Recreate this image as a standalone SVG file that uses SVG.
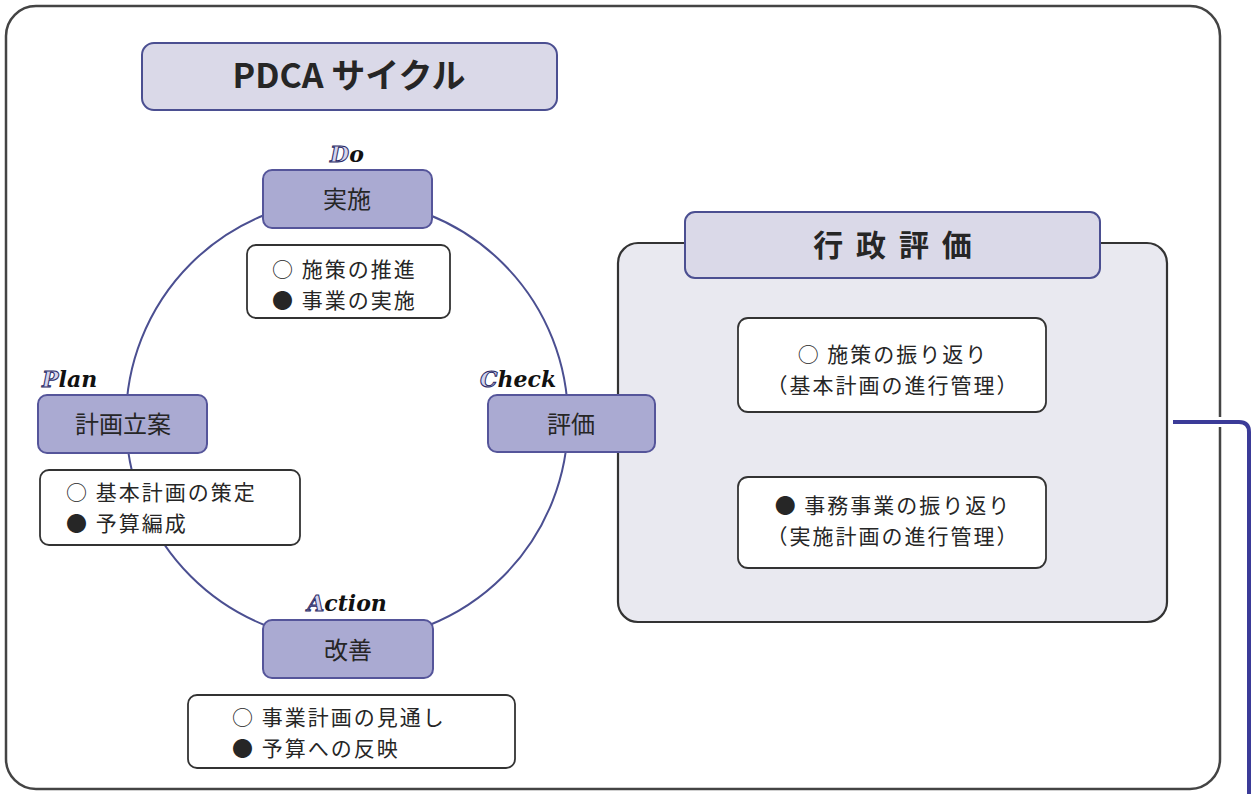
<svg xmlns="http://www.w3.org/2000/svg" width="1254" height="794" viewBox="0 0 1254 794">
<style>
.jp{font-family:"Noto Sans CJK JP","Noto Sans",sans-serif;fill:#262626}
.lbl{font-size:24px;text-anchor:middle}
.item{font-size:21px;letter-spacing:2px}
.hdr{fill:#dad9e8;stroke:#4b4f91;stroke-width:2}
.node{fill:#aaaad2;stroke:#55559a;stroke-width:2}
.tbox{fill:#fff;stroke:#333;stroke-width:1.8}
.script{font-family:"DejaVu Serif",serif;font-style:italic;font-weight:bold;font-size:22px}
.cap{fill:#d4d4ee;stroke:#2a2a66;stroke-width:1}
.low{fill:#111}
</style>
<rect x="0" y="0" width="1254" height="794" fill="#fff"/>
<g id="frame">
<rect x="6" y="6" width="1214" height="783" rx="30" fill="#fff" stroke="#444" stroke-width="2.5"/>
</g>
<g id="connectors" fill="none">
<circle cx="347" cy="420" r="221" stroke="#4b4f91" stroke-width="2"/>
<path d="M1173 422 H1239 Q1249 422 1249 432 V800" stroke="#fff" stroke-width="10"/>
<path d="M1173 422 H1239 Q1249 422 1249 432 V800" stroke="#3b3b98" stroke-width="4"/>
</g>
<g id="title">
<rect class="hdr" x="142" y="43" width="415" height="67" rx="12"/>
<text class="jp" x="349" y="88" font-size="34" font-weight="bold" text-anchor="middle">PDCA サイクル</text>
</g>
<g id="gyosei">
<rect x="618" y="243" width="549" height="379" rx="20" fill="#e9e9f0" stroke="#333" stroke-width="2.2"/>
<rect class="hdr" x="685" y="212" width="415" height="66" rx="10"/>
<text class="jp" x="894" y="256" font-size="30" font-weight="bold" text-anchor="middle" letter-spacing="3">行 政 評 価</text>
<rect class="tbox" x="738" y="318" width="308" height="94" rx="10"/>
<text class="jp item" x="893" y="362" text-anchor="middle">○ 施策の振り返り</text>
<text class="jp item" x="893" y="393" text-anchor="middle">（基本計画の進行管理）</text>
<rect class="tbox" x="738" y="477" width="308" height="91" rx="10"/>
<text class="jp item" x="893" y="513" text-anchor="middle">● 事務事業の振り返り</text>
<text class="jp item" x="893" y="544" text-anchor="middle">（実施計画の進行管理）</text>
</g>
<g id="do">
<text class="script" x="347" y="162" text-anchor="middle"><tspan class="cap">D</tspan><tspan class="low">o</tspan></text>
<rect class="node" x="263" y="170" width="169" height="58" rx="9"/>
<text class="jp lbl" x="347" y="208">実施</text>
<rect class="tbox" x="247" y="245" width="203" height="73" rx="9"/>
<text class="jp item" x="272" y="277">○ 施策の推進</text>
<text class="jp item" x="272" y="308">● 事業の実施</text>
</g>
<g id="plan">
<text class="script" x="42" y="387"><tspan class="cap">P</tspan><tspan class="low">lan</tspan></text>
<rect class="node" x="38" y="395" width="169" height="58" rx="9"/>
<text class="jp lbl" x="123" y="433">計画立案</text>
<rect class="tbox" x="40" y="470" width="260" height="75" rx="9"/>
<text class="jp item" x="66" y="500">○ 基本計画の策定</text>
<text class="jp item" x="66" y="531">● 予算編成</text>
</g>
<g id="check">
<text class="script" x="480" y="387"><tspan class="cap">C</tspan><tspan class="low">heck</tspan></text>
<rect class="node" x="488" y="395" width="167" height="57" rx="9"/>
<text class="jp lbl" x="571" y="433">評価</text>
</g>
<g id="action">
<text class="script" x="347" y="611" text-anchor="middle"><tspan class="cap">A</tspan><tspan class="low">ction</tspan></text>
<rect class="node" x="263" y="620" width="170" height="58" rx="9"/>
<text class="jp lbl" x="348" y="659">改善</text>
<rect class="tbox" x="188" y="695" width="327" height="73" rx="9"/>
<text class="jp item" x="232" y="725">○ 事業計画の見通し</text>
<text class="jp item" x="232" y="756">● 予算への反映</text>
</g>
</svg>
